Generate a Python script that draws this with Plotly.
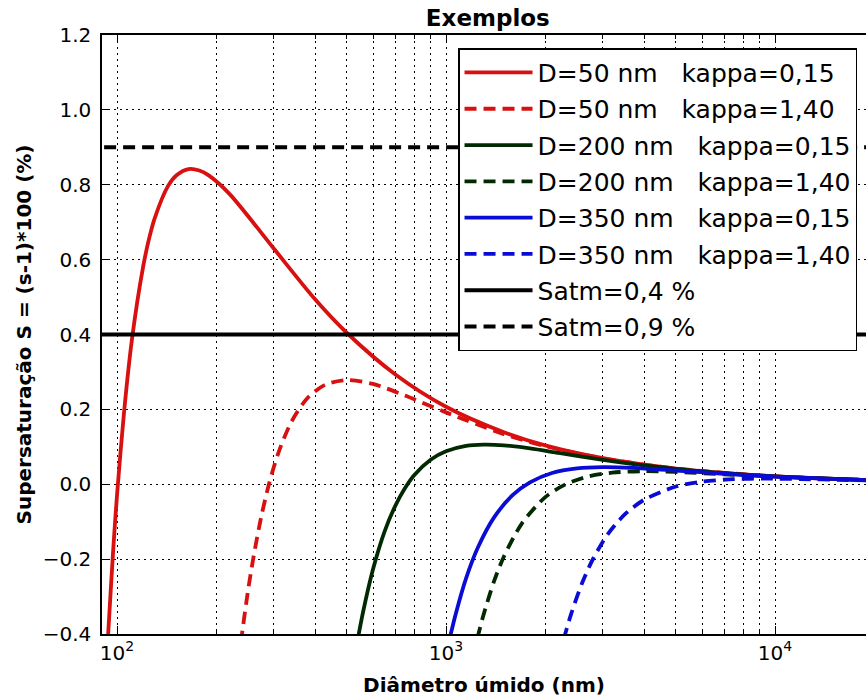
import plotly.graph_objects as go

# Wet diameter (nm) and supersaturation S = (s-1)*100 (%) for each Köhler curve
d50_k015_D = [93, 94, 97.5, 100, 105, 111, 120, 125, 130, 143, 152, 165, 178, 190, 220, 300, 400, 500, 700, 1000, 1500, 2000, 3000, 5000, 10000, 20000]
d50_k015_S = [-0.474, -0.40, -0.168, -0.03, 0.19, 0.386, 0.58, 0.654, 0.709, 0.797, 0.826, 0.842, 0.838, 0.825, 0.775, 0.629, 0.494, 0.404, 0.294, 0.207, 0.139, 0.104, 0.0697, 0.0418, 0.0209, 0.0105]

d50_k140_D = [238, 240, 250, 260, 275, 290, 310, 340, 380, 430, 500, 600, 750, 1000, 1500, 2000, 3000, 5000, 10000, 20000]
d50_k140_S = [-0.423, -0.398, -0.286, -0.194, -0.083, 0.002, 0.086, 0.169, 0.231, 0.266, 0.278, 0.268, 0.237, 0.192, 0.134, 0.102, 0.069, 0.042, 0.021, 0.0105]

d200_k015_D = [535, 543, 560, 600, 650, 700, 750, 800, 900, 1000, 1150, 1300, 1500, 1800, 2200, 3000, 4000, 6000, 10000, 20000]
d200_k015_S = [-0.432, -0.40, -0.340, -0.227, -0.127, -0.059, -0.011, 0.024, 0.066, 0.088, 0.1025, 0.106, 0.104, 0.0956, 0.0837, 0.0653, 0.0504, 0.0343, 0.0208, 0.0105]

d200_k140_D = [1245, 1255, 1300, 1400, 1500, 1700, 2000, 2300, 2700, 3200, 4000, 5000, 7000, 10000, 20000]
d200_k140_S = [-0.412, -0.40, -0.349, -0.259, -0.193, -0.105, -0.035, -0.001, 0.0205, 0.031, 0.0348, 0.0328, 0.0266, 0.0198, 0.0103]

d350_k015_D = [1025, 1034, 1070, 1150, 1250, 1400, 1600, 1800, 2100, 2500, 3000, 3700, 5000, 7000, 10000, 20000]
d350_k015_S = [-0.415, -0.40, -0.347, -0.252, -0.169, -0.0885, -0.028, 0.005, 0.030, 0.0423, 0.0458, 0.0438, 0.0367, 0.028, 0.0203, 0.0104]

d350_k140_D = [2280, 2303, 2400, 2600, 2800, 3100, 3500, 4000, 5000, 6000, 7500, 9300, 12000, 16000, 20000]
d350_k140_S = [-0.4145, -0.40, -0.347, -0.261, -0.199, -0.134, -0.080, -0.0415, -0.006, 0.007, 0.0137, 0.0150, 0.0139, 0.0116, 0.0097]

# Ambient supersaturation levels (%)
satm_D = [80, 30000]
satm_low = 0.4
satm_high = 0.9

# Axis ticks
x_major = [100, 1000, 10000]
x_major_text = ["10<sup>2</sup>", "10<sup>3</sup>", "10<sup>4</sup>"]
x_minor = [200, 300, 400, 500, 600, 700, 800, 900,
           2000, 3000, 4000, 5000, 6000, 7000, 8000, 9000]

RED = "#d81010"
GREEN = "#022a02"
BLUE = "#0b0bd6"
DASH = "12px,7px"
NB = "\u00a0"

curves = [
    (d50_k015_D, d50_k015_S, RED, "solid", f"D=50 nm{NB*3}kappa=0,15"),
    (d50_k140_D, d50_k140_S, RED, DASH, f"D=50 nm{NB*3}kappa=1,40"),
    (d200_k015_D, d200_k015_S, GREEN, "solid", f"D=200 nm{NB*3}kappa=0,15"),
    (d200_k140_D, d200_k140_S, GREEN, DASH, f"D=200 nm{NB*3}kappa=1,40"),
    (d350_k015_D, d350_k015_S, BLUE, "solid", f"D=350 nm{NB*3}kappa=0,15"),
    (d350_k140_D, d350_k140_S, BLUE, DASH, f"D=350 nm{NB*3}kappa=1,40"),
]

fig = go.Figure()
for i, (D, S, color, dash, name) in enumerate(curves):
    fig.add_trace(go.Scatter(
        x=D, y=S, mode="lines", name=name, legendgroup=f"g{i}",
        line=dict(color=color, width=3.8, dash=dash, shape="spline", smoothing=0.8),
    ))

fig.add_trace(go.Scatter(
    x=satm_D, y=[satm_low] * len(satm_D), mode="lines", name="Satm=0,4 %",
    legendgroup="g6", line=dict(color="black", width=4, dash="solid"),
))
fig.add_trace(go.Scatter(
    x=satm_D, y=[satm_high] * len(satm_D), mode="lines", name="Satm=0,9 %",
    legendgroup="g7", line=dict(color="black", width=4, dash=DASH),
))

FONT = "DejaVu Sans"
GRID_DASH = "2px,4px"

fig.update_layout(
    width=866, height=699,
    margin=dict(l=102, r=0, t=35, b=65),
    paper_bgcolor="white", plot_bgcolor="white",
    font=dict(family=FONT, size=20, color="black"),
    title=dict(
        text="<b>Exemplos</b>", x=0.505, xref="paper", xanchor="center",
        y=0.974, yref="container", yanchor="middle",
        font=dict(family=FONT, size=23, color="black"),
    ),
    showlegend=True,
    legend=dict(
        x=0.466, y=0.978, xanchor="left", yanchor="top",
        bgcolor="white", bordercolor="black", borderwidth=1.5,
        font=dict(family=FONT, size=25, color="black"),
        itemwidth=68, tracegroupgap=0.8,
    ),
)

fig.update_xaxes(
    type="log", range=[1.9544, 4.2766],
    tickmode="array", tickvals=x_major, ticktext=x_major_text,
    ticks="inside", ticklen=8, tickwidth=1, tickcolor="black",
    showline=True, linecolor="black", linewidth=1.5, mirror="allticks",
    showgrid=True, gridcolor="black", gridwidth=1, griddash=GRID_DASH,
    minor=dict(tickmode="array", tickvals=x_minor, ticks="inside", ticklen=4,
               tickwidth=1, tickcolor="black", showgrid=True, gridcolor="black",
               gridwidth=1, griddash=GRID_DASH),
    tickfont=dict(family=FONT, size=20),
    title=dict(text="<b>Diâmetro úmido (nm)</b>", font=dict(family=FONT, size=20), standoff=14),
    zeroline=False,
)

fig.update_yaxes(
    range=[-0.4, 1.2], dtick=0.2, tick0=0, tickformat=".1f",
    ticks="inside", ticklen=8, tickwidth=1, tickcolor="black",
    showline=True, linecolor="black", linewidth=1.5,
    showgrid=True, gridcolor="black", gridwidth=1, griddash=GRID_DASH,
    tickfont=dict(family=FONT, size=20), ticklabelstandoff=5,
    title=dict(text="<b>Supersaturação S = (s-1)*100 (%)</b>", font=dict(family=FONT, size=20), standoff=6),
    zeroline=False,
)

fig.write_html("out.html")
